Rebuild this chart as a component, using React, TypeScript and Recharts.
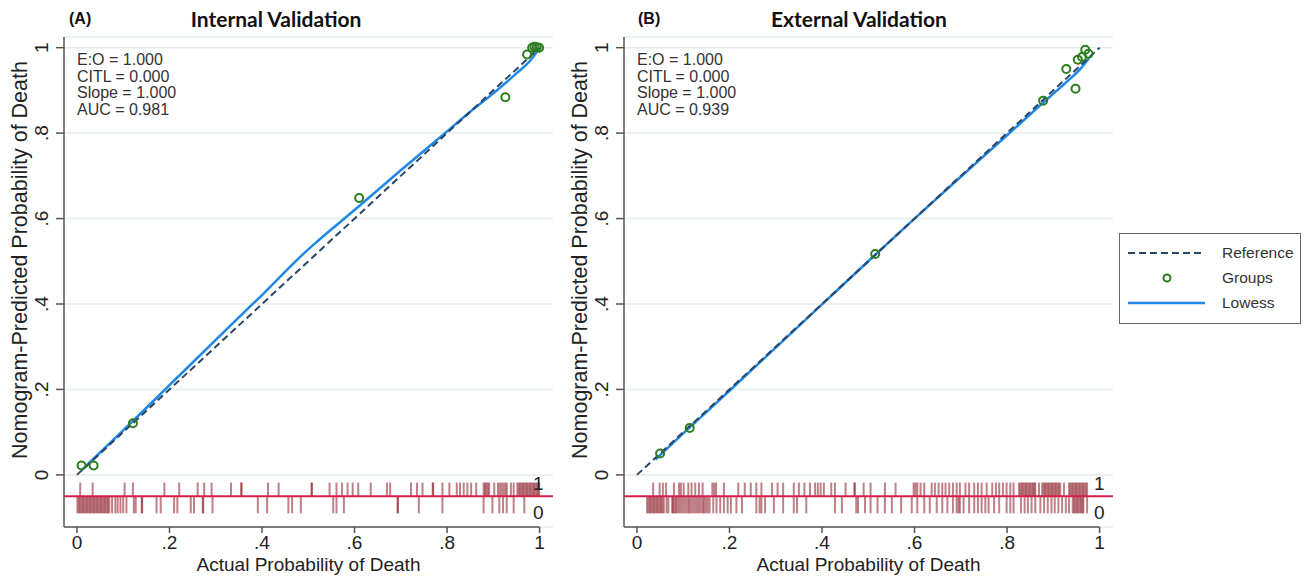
import React from 'react';
import {
  ComposedChart,
  Line,
  Scatter,
  XAxis,
  YAxis,
  CartesianGrid,
  ReferenceLine,
  Label,
} from 'recharts';

const FONT = '"Liberation Sans", Arial, sans-serif';
const TITLE_FONT = 'Lato, "Open Sans", sans-serif';

const TICKS = [0, 0.2, 0.4, 0.6, 0.8, 1];
const X_DOMAIN = [-0.028, 1.029];
const Y_DOMAIN = [-0.122, 1.025];

// rug rows: outcome 1 above the red line, outcome 0 below it
const RUG_MID = -0.05;
const RUG_TOP = -0.018;
const RUG_BOTTOM = -0.09;

const referenceData = [
  { x: 0, y: 0 },
  { x: 1, y: 1 },
];

const statsA = ['E:O = 1.000', 'CITL = 0.000', 'Slope = 1.000', 'AUC = 0.981'];
const statsB = ['E:O = 1.000', 'CITL = 0.000', 'Slope = 1.000', 'AUC = 0.939'];

const groupsA = [
  { x: 0.01, y: 0.022 },
  { x: 0.036, y: 0.022 },
  { x: 0.121, y: 0.121 },
  { x: 0.61, y: 0.648 },
  { x: 0.926, y: 0.884 },
  { x: 0.973, y: 0.984 },
  { x: 0.984, y: 1.0 },
  { x: 0.989, y: 1.002 },
  { x: 0.994, y: 1.001 },
  { x: 0.999, y: 1.0 },
];

const lowessA = [
  { x: 0.011, y: 0.012 },
  { x: 0.1, y: 0.104 },
  { x: 0.2, y: 0.21 },
  { x: 0.3, y: 0.316 },
  { x: 0.4, y: 0.421 },
  { x: 0.5, y: 0.528 },
  { x: 0.52, y: 0.547 },
  { x: 0.6, y: 0.62 },
  { x: 0.7, y: 0.713 },
  { x: 0.8, y: 0.804 },
  { x: 0.85, y: 0.85 },
  { x: 0.9, y: 0.893 },
  { x: 0.95, y: 0.94 },
  { x: 0.98, y: 0.97 },
  { x: 0.998, y: 0.996 },
];

const rugA1 = [
  0.007, 0.034, 0.103, 0.121, 0.189, 0.221, 0.261, 0.275, 0.291, 0.333, 0.355, 0.356,
  0.413, 0.436, 0.507, 0.508, 0.546, 0.561, 0.573, 0.585, 0.596, 0.608, 0.635, 0.67,
  0.677, 0.722, 0.735, 0.747, 0.769, 0.77, 0.79, 0.805, 0.821, 0.828, 0.836, 0.844,
  0.852, 0.863, 0.879, 0.882, 0.885, 0.888, 0.891, 0.902, 0.91, 0.914, 0.918, 0.922,
  0.926, 0.929, 0.938, 0.944, 0.952, 0.955, 0.958, 0.961, 0.964, 0.967, 0.97, 0.973,
  0.976, 0.979, 0.982, 0.985, 0.988, 0.991, 0.994, 0.997, 0.999,
];

const rugA0 = [
  0.001, 0.004, 0.007, 0.01, 0.013, 0.016, 0.019, 0.022, 0.025, 0.028, 0.031, 0.034,
  0.037, 0.04, 0.043, 0.046, 0.049, 0.052, 0.055, 0.058, 0.061, 0.064, 0.067, 0.07,
  0.076, 0.083, 0.088, 0.094, 0.1, 0.107, 0.123, 0.127, 0.14, 0.141, 0.172, 0.181,
  0.21, 0.217, 0.246, 0.253, 0.272, 0.273, 0.293, 0.391, 0.411, 0.457, 0.465, 0.484,
  0.554, 0.561, 0.577, 0.693, 0.694, 0.739, 0.79, 0.879, 0.898, 0.913, 0.921, 0.929,
  0.944, 0.967,
];

const groupsB = [
  { x: 0.05, y: 0.05 },
  { x: 0.114, y: 0.11 },
  { x: 0.515, y: 0.517 },
  { x: 0.878, y: 0.876 },
  { x: 0.928, y: 0.95 },
  { x: 0.948, y: 0.904 },
  { x: 0.953, y: 0.972 },
  { x: 0.962, y: 0.978 },
  { x: 0.969, y: 0.995 },
  { x: 0.976, y: 0.986 },
];

const lowessB = [
  { x: 0.04, y: 0.036 },
  { x: 0.1, y: 0.097 },
  { x: 0.2, y: 0.197 },
  { x: 0.3, y: 0.298 },
  { x: 0.4, y: 0.399 },
  { x: 0.5, y: 0.5 },
  { x: 0.6, y: 0.6 },
  { x: 0.7, y: 0.698 },
  { x: 0.8, y: 0.795 },
  { x: 0.88, y: 0.873 },
  { x: 0.93, y: 0.921 },
  { x: 0.96, y: 0.952 },
  { x: 0.977, y: 0.975 },
];

const rugB1 = [
  0.035, 0.049, 0.056, 0.063, 0.08, 0.091, 0.095, 0.101, 0.111, 0.118, 0.126, 0.134,
  0.142, 0.163, 0.167, 0.171, 0.188, 0.219, 0.233, 0.246, 0.258, 0.269, 0.292, 0.304,
  0.316, 0.339, 0.35, 0.362, 0.374, 0.385, 0.391, 0.397, 0.404, 0.42, 0.428, 0.451,
  0.47, 0.471, 0.49, 0.505, 0.536, 0.559, 0.598, 0.602, 0.606, 0.613, 0.621, 0.637,
  0.644, 0.652, 0.66, 0.667, 0.675, 0.683, 0.691, 0.698, 0.71, 0.718, 0.729, 0.737,
  0.745, 0.756, 0.768, 0.776, 0.783, 0.791, 0.799, 0.807, 0.814, 0.826, 0.829, 0.832,
  0.835, 0.838, 0.841, 0.844, 0.847, 0.85, 0.853, 0.856, 0.859, 0.861, 0.869, 0.876,
  0.879, 0.882, 0.885, 0.888, 0.891, 0.894, 0.897, 0.9, 0.903, 0.906, 0.909, 0.912,
  0.915, 0.923, 0.934, 0.937, 0.94, 0.943, 0.946, 0.949, 0.952, 0.955, 0.958, 0.961,
  0.964, 0.967, 0.97, 0.973,
];

const rugB0 = [
  0.022, 0.025, 0.028, 0.031, 0.034, 0.037, 0.04, 0.043, 0.046, 0.049, 0.052, 0.055,
  0.058, 0.064, 0.068, 0.076, 0.078, 0.081, 0.084, 0.087, 0.091, 0.095, 0.099, 0.103,
  0.107, 0.111, 0.114, 0.118, 0.122, 0.126, 0.13, 0.134, 0.138, 0.142, 0.145, 0.149,
  0.153, 0.157, 0.165, 0.172, 0.18, 0.188, 0.196, 0.203, 0.215, 0.227, 0.258, 0.265,
  0.269, 0.277, 0.296, 0.316, 0.339, 0.346, 0.366, 0.428, 0.443, 0.474, 0.478, 0.493,
  0.505, 0.52, 0.536, 0.551, 0.571, 0.594, 0.606, 0.621, 0.633, 0.648, 0.66, 0.671,
  0.683, 0.691, 0.695, 0.698, 0.706, 0.718, 0.729, 0.737, 0.745, 0.753, 0.76, 0.772,
  0.783, 0.799, 0.807, 0.814, 0.83, 0.838, 0.845, 0.853, 0.861, 0.872, 0.88, 0.888,
  0.896, 0.903, 0.911, 0.919, 0.927, 0.934, 0.942, 0.945, 0.948, 0.951, 0.954, 0.957,
  0.96, 0.963, 0.965, 0.973,
];

const fmt = (v: number) => (v === 0 ? '0' : v === 1 ? '1' : String(v).replace('0.', '.'));

const YTick = (props: any) => {
  const { x, y, payload } = props;
  const tx = x - 6;
  return (
    <text
      x={tx}
      y={y}
      transform={`rotate(-90 ${tx} ${y})`}
      textAnchor="middle"
      fontSize={19}
      fontFamily={FONT}
      fill="#222"
    >
      {fmt(payload.value)}
    </text>
  );
};

const YTitle = (props: any) => {
  const vb = props.viewBox || { x: 0, y: 37, height: 490 };
  const tx = vb.x + 27;
  const ty = vb.y + vb.height / 2 - 22;
  return (
    <text
      x={tx}
      y={ty}
      transform={`rotate(-90 ${tx} ${ty})`}
      textAnchor="middle"
      fontSize={21.5}
      fontFamily={FONT}
      fill="#222"
    >
      Nomogram-Predicted Probability of Death
    </text>
  );
};

const GroupDot = (props: any) => (
  <circle cx={props.cx} cy={props.cy} r={4} fill="none" stroke="#2d7d1f" strokeWidth={2} />
);

type PanelProps = {
  width: number;
  marginRight: number;
  groups: { x: number; y: number }[];
  lowess: { x: number; y: number }[];
  rug1: number[];
  rug0: number[];
};

function Panel({ width, marginRight, groups, lowess, rug1, rug0 }: PanelProps) {
  return (
    <ComposedChart
      width={width}
      height={577}
      margin={{ top: 37, right: marginRight, bottom: 0, left: 0 }}
    >
      <CartesianGrid xAxisId="x" yAxisId="y" vertical={false} stroke="#e3eded" strokeWidth={1.5} />
      <XAxis
        xAxisId="x"
        type="number"
        dataKey="x"
        domain={X_DOMAIN}
        ticks={TICKS}
        interval={0}
        allowDataOverflow
        axisLine={false}
        tickLine={{ stroke: '#555', strokeWidth: 1.5 }}
        tickSize={6}
        tickMargin={3}
        height={50}
        tick={{ fontSize: 19, fill: '#222', fontFamily: FONT }}
        tickFormatter={fmt}
      >
        <Label
          value="Actual Probability of Death"
          position="insideBottom"
          offset={6}
          style={{ fontSize: 19, fill: '#222', fontFamily: FONT }}
        />
      </XAxis>
      <YAxis
        yAxisId="y"
        type="number"
        domain={Y_DOMAIN}
        ticks={TICKS}
        interval={0}
        allowDataOverflow
        width={64}
        axisLine={{ stroke: '#555', strokeWidth: 1.5 }}
        tickLine={{ stroke: '#555', strokeWidth: 1.5 }}
        tickSize={8}
        tickMargin={2}
        tick={<YTick />}
      >
        <Label content={<YTitle />} />
      </YAxis>

      {/* x axis line stops at 1 */}
      <ReferenceLine
        xAxisId="x"
        yAxisId="y"
        segment={[
          { x: X_DOMAIN[0], y: Y_DOMAIN[0] },
          { x: 1, y: Y_DOMAIN[0] },
        ]}
        stroke="#555"
        strokeWidth={1.5}
      />

      {rug1.map((v, i) => (
        <ReferenceLine
          key={'r1' + i}
          xAxisId="x"
          yAxisId="y"
          segment={[
            { x: v, y: RUG_MID },
            { x: v, y: RUG_TOP },
          ]}
          stroke="#8b1a24"
          strokeOpacity={0.55}
          strokeWidth={2}
        />
      ))}
      {rug0.map((v, i) => (
        <ReferenceLine
          key={'r0' + i}
          xAxisId="x"
          yAxisId="y"
          segment={[
            { x: v, y: RUG_BOTTOM },
            { x: v, y: RUG_MID },
          ]}
          stroke="#8b1a24"
          strokeOpacity={0.55}
          strokeWidth={2}
        />
      ))}
      <ReferenceLine xAxisId="x" yAxisId="y" y={RUG_MID} stroke="#d6204a" strokeWidth={2} />

      <Line
        xAxisId="x"
        yAxisId="y"
        data={lowess}
        dataKey="y"
        type="monotone"
        stroke="#1f88e6"
        strokeWidth={2.5}
        dot={false}
        isAnimationActive={false}
      />
      <Line
        xAxisId="x"
        yAxisId="y"
        data={referenceData}
        dataKey="y"
        type="linear"
        stroke="#2b4565"
        strokeWidth={2}
        strokeDasharray="7 4"
        dot={false}
        isAnimationActive={false}
      />
      <Scatter
        xAxisId="x"
        yAxisId="y"
        data={groups}
        dataKey="y"
        shape={<GroupDot />}
        isAnimationActive={false}
      />
    </ComposedChart>
  );
}

const abs = (left: number, top: number, extra: React.CSSProperties = {}): React.CSSProperties => ({
  position: 'absolute',
  left,
  top,
  whiteSpace: 'nowrap',
  ...extra,
});

function Stats({ left, lines }: { left: number; lines: string[] }) {
  return (
    <div style={abs(left, 52, { fontSize: 16, lineHeight: '16.7px', color: '#333', fontFamily: FONT })}>
      {lines.map((l) => (
        <div key={l}>{l}</div>
      ))}
    </div>
  );
}

function Titles({ tagLeft, tag, center, title }: { tagLeft: number; tag: string; center: number; title: string }) {
  return (
    <>
      <div style={abs(tagLeft, 10, { fontSize: 16, fontWeight: 700, lineHeight: '18px', fontFamily: FONT, color: '#111' })}>
        {tag}
      </div>
      <div
        style={abs(center - 120, 7, {
          width: 240,
          textAlign: 'center',
          fontSize: 21,
          fontWeight: 700,
          lineHeight: '24px',
          fontFamily: TITLE_FONT,
          color: '#111',
        })}
      >
        {title}
      </div>
    </>
  );
}

function RugLabels({ left }: { left: number }) {
  const st = { fontSize: 19, lineHeight: '20px', fontFamily: FONT, color: '#222' };
  return (
    <>
      <div style={abs(left, 474, st)}>1</div>
      <div style={abs(left, 503, st)}>0</div>
    </>
  );
}

function LegendBox() {
  return (
    <svg style={abs(1119, 233)} width={182} height={91}>
      <rect x={0.5} y={0.5} width={181} height={90} fill="#fff" stroke="#666" strokeWidth={1} />
      <line x1={9} y1={20} x2={86} y2={20} stroke="#2b4565" strokeWidth={2} strokeDasharray="7 4" />
      <circle cx={48} cy={45} r={3.5} fill="none" stroke="#2d7d1f" strokeWidth={2} />
      <line x1={9} y1={70} x2={86} y2={70} stroke="#1f88e6" strokeWidth={2.5} />
      <g fontFamily={FONT} fontSize={15.5} fill="#333">
        <text x={103} y={25}>Reference</text>
        <text x={103} y={50}>Groups</text>
        <text x={103} y={75}>Lowess</text>
      </g>
    </svg>
  );
}

export default function App() {
  return (
    <div style={{ position: 'absolute', left: 0, top: 0, width: 1309, height: 577, background: '#fff' }}>
      <div style={abs(0, 0)}>
        <Panel width={570} marginRight={17} groups={groupsA} lowess={lowessA} rug1={rugA1} rug0={rugA0} />
      </div>
      <div style={abs(560, 0)}>
        <Panel width={560} marginRight={7} groups={groupsB} lowess={lowessB} rug1={rugB1} rug0={rugB0} />
      </div>
      <Titles tagLeft={69} tag="(A)" center={276} title="Internal Validation" />
      <Titles tagLeft={638} tag="(B)" center={859} title="External Validation" />
      <Stats left={77} lines={statsA} />
      <Stats left={637} lines={statsB} />
      <RugLabels left={533} />
      <RugLabels left={1094} />
      <LegendBox />
    </div>
  );
}
